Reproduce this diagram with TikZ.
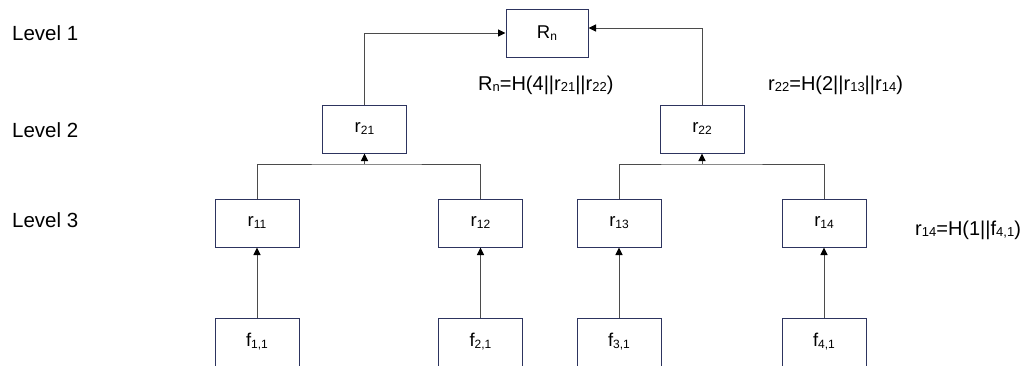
\documentclass[tikz,border=0pt]{standalone}
\usepackage{fontspec}
\setmainfont{Liberation Sans}
\usetikzlibrary{arrows.meta}
\definecolor{boxc}{RGB}{45,52,95}
\definecolor{linec}{RGB}{75,75,75}
\newcommand\bsub[1]{\raisebox{-2pt}{\fontsize{12}{12}\selectfont #1}}
\newcommand\fsub[1]{\raisebox{-1.5pt}{\fontsize{13}{13}\selectfont #1}}
\begin{document}
\begin{tikzpicture}[x=1pt,y=-1pt,
  nodebox/.style={draw=boxc,line width=1pt,minimum width=84pt,minimum height=48pt,inner sep=0pt,font=\fontsize{18.5}{21}\selectfont},
  lvl/.style={anchor=base west,inner sep=0pt,font=\fontsize{20.5}{24}\selectfont},
  frm/.style={anchor=base west,inner sep=0pt,font=\fontsize{20}{24}\selectfont},
  line/.style={draw=linec,line width=1pt},
  conn/.style={line,-{Triangle[length=7.5pt,width=7pt,color=black]}}]
\useasboundingbox (0,0) rectangle (1029,365);
% nodes
\node[nodebox,minimum width=82pt] (Rn) at (547,33) {R\bsub{n}};
\node[nodebox] (r21) at (364.5,129) {r\bsub{21}};
\node[nodebox] (r22) at (702,129) {r\bsub{22}};
\node[nodebox] (r11) at (257,223) {r\bsub{11}};
\node[nodebox] (r12) at (480.5,223) {r\bsub{12}};
\node[nodebox] (r13) at (619,223) {r\bsub{13}};
\node[nodebox] (r14) at (824,223) {r\bsub{14}};
\node[nodebox] (f1) at (257,342) {f\bsub{1,1}};
\node[nodebox] (f2) at (480.5,342) {f\bsub{2,1}};
\node[nodebox] (f3) at (619,342) {f\bsub{3,1}};
\node[nodebox] (f4) at (824,342) {f\bsub{4,1}};
% level labels
\node[lvl] (l1) at (12,40.5) {Level 1};
\node[lvl] (l2) at (12,137) {Level 2};
\node[lvl] (l3) at (12,227) {Level 3};
% formulas
\node[frm] (e1) at (478,90) {R\fsub{n}=H(4||r\fsub{21}||r\fsub{22})};
\node[frm] (e2) at (768,90) {r\fsub{22}=H(2||r\fsub{13}||r\fsub{14})};
\node[frm] (e3) at (915,235) {r\fsub{14}=H(1||f\fsub{4,1})};
% connectors
\draw[conn] (r21.north) |- (Rn.west);
\draw[conn] (r22.north) |- ([yshift=5pt]Rn.east);
\coordinate (b1) at (r21.south |- 0,164);
\coordinate (b2) at (r22.south |- 0,164);
\draw[line] (r11.north) |- (b1) -| (r12.north);
\draw[conn] (b1) -- (r21.south);
\draw[line] (r13.north) |- (b2) -| (r14.north);
\draw[conn] (b2) -- (r22.south);
\draw[conn] (f1) -- (r11);
\draw[conn] (f2) -- (r12);
\draw[conn] (f3) -- (r13);
\draw[conn] (f4) -- (r14);
\end{tikzpicture}
\end{document}
